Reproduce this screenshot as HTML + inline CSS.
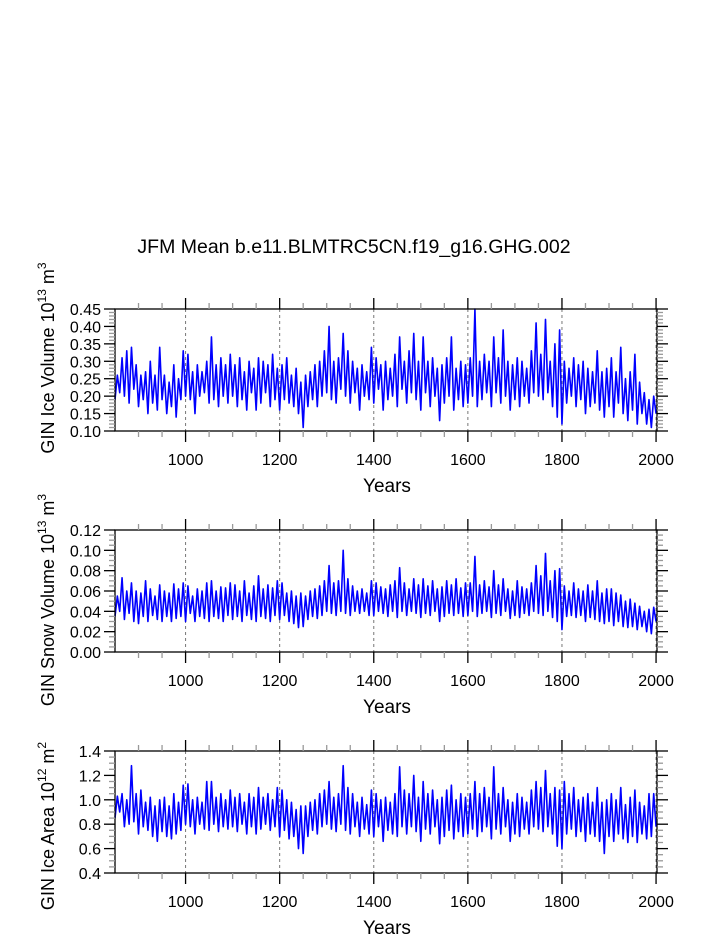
<!DOCTYPE html>
<html><head><meta charset="utf-8">
<style>
html,body{margin:0;padding:0;background:#fff;}
svg{display:block;font-family:"Liberation Sans",Arial,sans-serif;}
</style></head>
<body>
<svg id="chart" width="723" height="935" viewBox="0 0 723 935">
<text x="354" y="253" font-size="19.5" text-anchor="middle">JFM Mean b.e11.BLMTRC5CN.f19_g16.GHG.002</text>
</svg>
<script>
const years0 = 850, yearStep = 5;
const iceVolume = [
.19,.26,.21,.31,.20,.33,.18,.34,.22,.29,
.17,.26,.19,.27,.15,.30,.18,.26,.16,.34,
.19,.26,.15,.24,.17,.29,.14,.25,.19,.33,
.20,.32,.19,.27,.15,.29,.20,.27,.21,.30,
.18,.37,.19,.29,.17,.31,.20,.29,.18,.32,
.20,.29,.17,.31,.19,.27,.16,.30,.21,.28,
.16,.31,.18,.30,.21,.29,.17,.32,.19,.28,
.16,.29,.19,.31,.18,.26,.17,.28,.15,.24,
.11,.26,.17,.27,.19,.29,.17,.30,.20,.33,
.21,.40,.19,.30,.18,.31,.22,.38,.20,.33,
.18,.30,.21,.28,.16,.29,.20,.27,.19,.34,
.18,.31,.22,.29,.16,.30,.19,.28,.20,.32,
.17,.37,.22,.30,.18,.33,.21,.38,.19,.30,
.16,.37,.21,.30,.17,.31,.20,.28,.13,.29,
.18,.31,.20,.37,.16,.28,.19,.30,.17,.29,
.18,.31,.20,.45,.17,.30,.19,.32,.21,.30,
.17,.37,.21,.31,.18,.39,.20,.30,.16,.29,
.19,.31,.17,.30,.20,.28,.18,.33,.21,.41,
.20,.32,.19,.42,.21,.30,.17,.35,.14,.39,
.12,.30,.18,.28,.20,.31,.17,.29,.19,.30,
.15,.28,.17,.27,.18,.33,.16,.27,.14,.28,
.17,.31,.14,.27,.18,.34,.15,.25,.13,.27,
.16,.32,.12,.24,.15,.21,.12,.19,.11,.20,
.15];
const snowVolume = [
.035,.055,.040,.073,.032,.060,.038,.068,.030,.060,
.028,.058,.035,.070,.030,.062,.036,.055,.032,.066,
.030,.060,.035,.058,.030,.067,.033,.062,.035,.068,
.030,.065,.038,.055,.030,.062,.035,.060,.033,.068,
.030,.070,.035,.060,.033,.064,.030,.063,.036,.068,
.032,.066,.035,.060,.030,.070,.036,.058,.032,.065,
.030,.075,.035,.062,.033,.066,.030,.063,.036,.070,
.032,.068,.036,.058,.030,.060,.028,.055,.024,.058,
.025,.055,.032,.060,.035,.062,.033,.065,.036,.070,
.040,.085,.038,.068,.036,.070,.040,.100,.038,.072,
.036,.065,.040,.060,.038,.062,.040,.058,.036,.070,
.036,.068,.040,.064,.038,.062,.035,.066,.040,.070,
.034,.083,.040,.068,.036,.062,.040,.072,.038,.066,
.034,.072,.038,.065,.036,.070,.040,.062,.030,.064,
.035,.070,.038,.066,.036,.072,.038,.063,.035,.068,
.036,.068,.040,.094,.035,.066,.038,.070,.040,.064,
.034,.080,.038,.066,.036,.072,.040,.062,.033,.060,
.036,.070,.034,.064,.038,.062,.036,.068,.040,.085,
.038,.075,.036,.097,.040,.070,.034,.080,.030,.082,
.022,.065,.035,.060,.036,.068,.034,.062,.036,.060,
.030,.066,.034,.060,.032,.070,.030,.058,.028,.062,
.030,.062,.026,.058,.030,.056,.025,.050,.024,.052,
.025,.048,.022,.045,.025,.040,.020,.042,.018,.044,
.030];
const iceArea = [
.85,1.03,.90,1.05,.78,1.00,.80,1.28,.82,1.05,
.72,1.08,.78,.98,.75,1.02,.70,.95,.66,1.00,
.74,1.02,.70,.95,.68,1.05,.72,.98,.75,1.12,
.80,1.13,.78,1.00,.72,1.02,.80,.98,.76,1.15,
.75,1.15,.80,1.02,.74,1.05,.78,1.00,.76,1.08,
.78,1.02,.74,1.05,.80,.98,.72,1.05,.78,1.02,
.72,1.10,.76,1.02,.80,1.05,.75,1.00,.78,1.10,
.70,1.08,.75,1.00,.68,.98,.70,.92,.60,.95,
.56,.95,.70,.98,.75,1.00,.72,1.05,.78,1.08,
.80,1.15,.76,1.02,.74,1.05,.80,1.28,.75,1.10,
.72,1.05,.78,.98,.70,1.02,.76,.96,.72,1.08,
.70,1.05,.78,1.00,.66,1.02,.75,.98,.72,1.05,
.70,1.27,.78,1.08,.72,1.05,.78,1.20,.74,1.02,
.66,1.15,.76,1.05,.72,1.08,.78,1.00,.64,1.02,
.70,1.08,.75,1.12,.68,1.00,.74,1.05,.70,1.02,
.72,1.05,.76,1.15,.70,1.05,.74,1.10,.78,1.02,
.68,1.27,.76,1.05,.72,1.10,.78,1.00,.66,.98,
.72,1.05,.70,1.02,.76,.98,.72,1.08,.78,1.15,
.76,1.10,.74,1.24,.78,1.05,.72,1.10,.62,1.08,
.60,1.15,.72,1.05,.76,1.10,.70,1.00,.74,1.02,
.66,1.05,.72,.98,.70,1.10,.66,.98,.56,1.00,
.70,1.05,.66,1.00,.72,1.10,.68,.96,.65,1.02,
.70,1.08,.65,.98,.72,.95,.68,1.05,.70,1.05,
.78];
const xTickLabels = ["1000","1200","1400","1600","1800","2000"];
const yTicks1 = ["0.10","0.15","0.20","0.25","0.30","0.35","0.40","0.45"];
const yTicks2 = ["0.00","0.02","0.04","0.06","0.08","0.10","0.12"];
const yTicks3 = ["0.4","0.6","0.8","1.0","1.2","1.4"];

const NS="http://www.w3.org/2000/svg";
const svg=document.getElementById('chart');
const X0=115,X1=657,YMIN=850,YMAX=2002;
function xs(yr){return X0+(yr-YMIN)/(YMAX-YMIN)*(X1-X0);}
function mk(tag,attrs,parent){const e=document.createElementNS(NS,tag);for(const k in attrs)e.setAttribute(k,attrs[k]);(parent||svg).appendChild(e);return e;}

function panel(key,top,bot,vals,ticks,minorStep,label,sup,unitSup,labelCenter){
  const g=mk('g',{});
  
  
  const vmin=parseFloat(ticks[0]),vmax=parseFloat(ticks[ticks.length-1]);
  const ys=v=>bot-(v-vmin)/(vmax-vmin)*(bot-top);
  xTickLabels.forEach(t=>{const x=xs(+t);
    const l=mk('line',{x1:x,x2:x,y1:top,y2:bot,stroke:'#777','stroke-width':1,'stroke-dasharray':'3,3'},g);
    
    
  });
  let d='';
  vals.forEach((v,i)=>{d+=(i?'L':'M')+xs(years0+i*yearStep).toFixed(2)+','+ys(v).toFixed(2);});
  const p=mk('path',{d:d,fill:'none',stroke:'#0000ff','stroke-width':1.6,'stroke-linejoin':'round'},g);
  
  
  const b=mk('rect',{x:X0,y:top,width:X1-X0,height:bot-top,fill:'none',stroke:'#000','stroke-width':1.3},g);
  
  
  for(let yr=900;yr<=2000;yr+=50){const x=xs(yr);const major=yr%200===0;const L=major?11:6;
    mk('line',{x1:x,x2:x,y1:bot,y2:bot+L,stroke:major?'#000':'#999','stroke-width':1.3},g);
    mk('line',{x1:x,x2:x,y1:top,y2:top-L,stroke:major?'#000':'#999','stroke-width':1.3},g);
  }
  xTickLabels.forEach(t=>{const tx=mk('text',{x:xs(+t),y:bot+34,'font-size':16,'text-anchor':'middle'},g);tx.textContent=t;
    
    });
  const xt=mk('text',{x:387,y:bot+61,'font-size':19,'text-anchor':'middle'},g);xt.textContent='Years';
  
  
  const nMinor=Math.round((vmax-vmin)/minorStep);
  const perMajor=Math.round((parseFloat(ticks[1])-vmin)/minorStep);
  for(let i=0;i<=nMinor;i++){const y=ys(vmin+i*minorStep);const major=i%perMajor===0;const L=major?11:6;
    mk('line',{x1:X0-L,x2:X0,y1:y,y2:y,stroke:major?'#000':'#999','stroke-width':1.3},g);
    mk('line',{x1:X1,x2:X1+L,y1:y,y2:y,stroke:major?'#000':'#999','stroke-width':1.3},g);
  }
  ticks.forEach(t=>{const tx=mk('text',{x:X0-14,y:ys(parseFloat(t))+6,'font-size':16,'text-anchor':'end'},g);tx.textContent=t;
    
    });
  const yt=mk('text',{transform:`translate(${54},${labelCenter}) rotate(-90)`,'font-size':18,'text-anchor':'middle'},g);
  
  
  yt.innerHTML=label+' 10<tspan font-size="12" dy="-8">'+sup+'</tspan><tspan dy="8"> m</tspan><tspan font-size="12" dy="-8">'+unitSup+'</tspan>';
}
panel('ice-volume',309,431,iceVolume,yTicks1,0.01,'GIN Ice Volume','13','3',358);
panel('snow-volume',530,652,snowVolume,yTicks2,0.005,'GIN Snow Volume','13','3',600);
panel('area',751,873,iceArea,yTicks3,0.05,'GIN Ice Area','12','2',826);
</script>
</body></html>
